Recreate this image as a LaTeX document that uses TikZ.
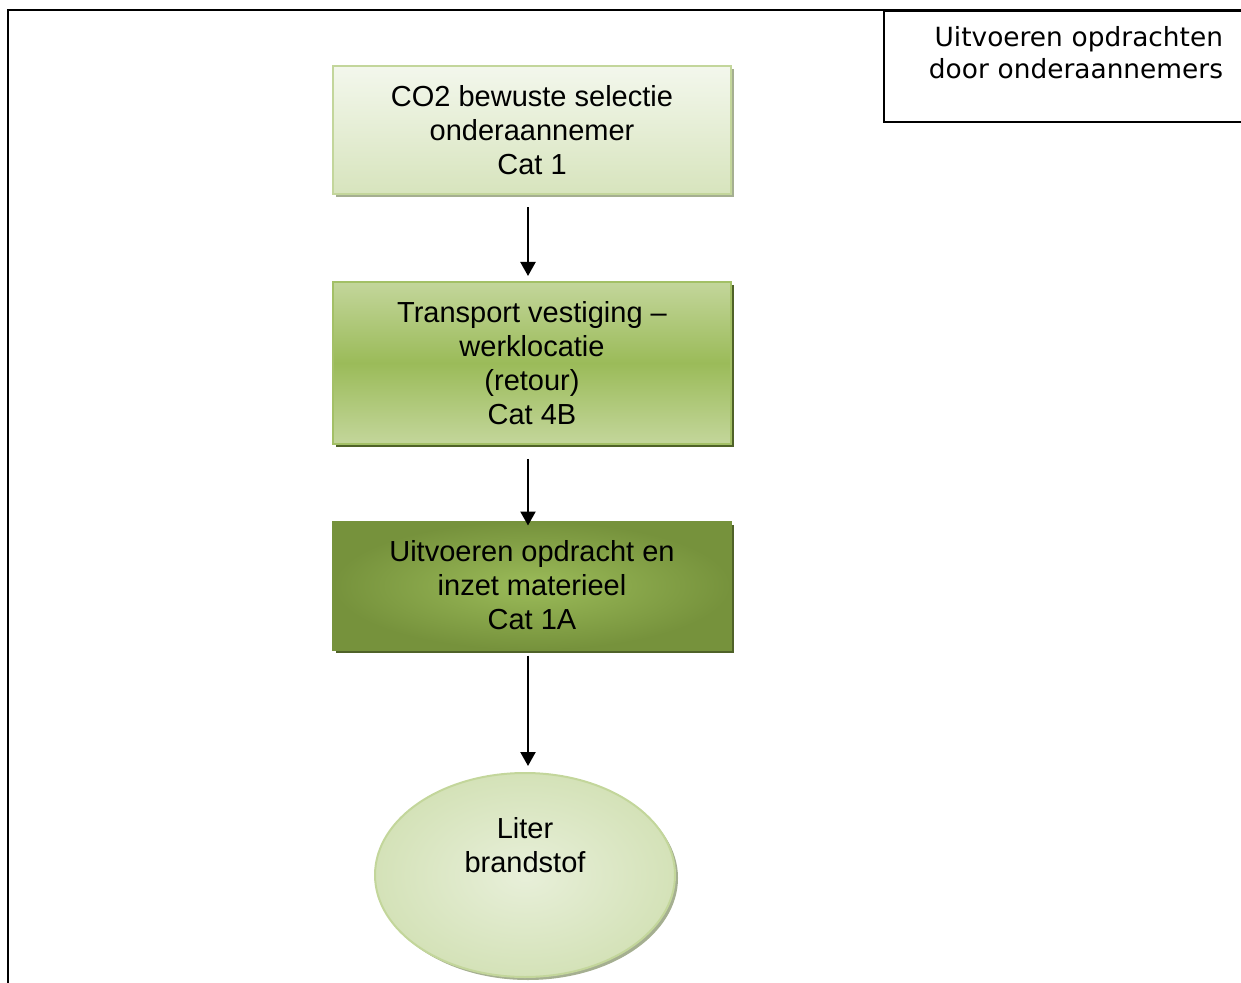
\documentclass[tikz,border=0pt]{standalone}
\usepackage{fontspec}
\setmainfont{Liberation Sans}
\newfontfamily\verdana{DejaVu Sans}
\usetikzlibrary{arrows.meta,shapes.geometric,shadows}

\definecolor{bleek}{RGB}{243,247,236}
\definecolor{lichtgroen}{RGB}{215,228,189}
\definecolor{randgroen}{RGB}{195,214,155}
\definecolor{midgroen}{RGB}{155,187,89}
\definecolor{donkergroen}{RGB}{118,146,60}
\definecolor{olijf}{RGB}{79,98,40}
\definecolor{grijsgroen}{RGB}{165,175,145}

\begin{document}
\begin{tikzpicture}[x=0.5pt,y=-0.5pt,
  stap/.style={rectangle, minimum width=199pt, minimum height=64pt, align=center,
    font=\fontsize{14.5}{17}\selectfont, line width=1pt},
  pijl/.style={-{Triangle[width=7.5pt,length=7pt]}, line width=1.1pt}]
  \useasboundingbox (0,0) rectangle (1241,983);

  % kader
  \draw[line width=1pt] (8,995) -- (8,10) -- (1260,10);
  \node[draw, line width=1pt, anchor=north west, minimum width=188pt, minimum height=55.5pt,
    inner xsep=18.5pt, text width=151pt, align=right, text depth=30.5pt,
    font=\verdana\fontsize{13.2}{16}\selectfont] (kop) at (883,10)
    {Uitvoeren opdrachten\\door onderaannemers};

  % stappen
  \node[stap, draw=randgroen, top color=bleek, bottom color=lichtgroen,
    drop shadow={shadow xshift=1.5pt, shadow yshift=-1.5pt, fill=grijsgroen, opacity=1}]
    (selectie) at (532,130.5) {CO2 bewuste selectie\\onderaannemer\\Cat 1};
  \node[stap, minimum height=81pt, draw=midgroen!80!randgroen, top color=randgroen,
    bottom color=randgroen, middle color=midgroen,
    drop shadow={shadow xshift=1.5pt, shadow yshift=-1.5pt, fill=olijf, opacity=1}]
    (transport) at (532,363) {Transport vestiging --\\werklocatie\\(retour)\\Cat 4B};
  \node[stap, draw=donkergroen, inner color=midgroen, outer color=donkergroen,
    drop shadow={shadow xshift=1.5pt, shadow yshift=-1.5pt, fill=olijf, opacity=1}]
    (uitvoeren) at (532,585.5) {Uitvoeren opdracht en\\inzet materieel\\Cat 1A};
  \node[ellipse, minimum width=150pt, minimum height=102pt, inner sep=0pt, align=center,
    draw=randgroen, line width=1pt, inner color=bleek!60!lichtgroen, outer color=lichtgroen!85!randgroen,
    text depth=30pt, font=\fontsize{14.5}{17}\selectfont,
    drop shadow={shadow xshift=1.5pt, shadow yshift=-1.5pt, fill=grijsgroen, opacity=1}]
    (liter) at (525,875) {Liter\\brandstof};

  % pijlen
  \draw[pijl] ([xshift=-2pt,yshift=-6pt]selectie.south) -- ([xshift=-2pt,yshift=2.5pt]transport.north);
  \draw[pijl] ([xshift=-2pt,yshift=-7pt]transport.south) -- ([xshift=-2pt,yshift=-2.5pt]uitvoeren.north);
  \draw[pijl] ([xshift=-2pt,yshift=-2.5pt]uitvoeren.south) -- ([xshift=1.5pt,yshift=3pt]liter.north);
\end{tikzpicture}
\end{document}
